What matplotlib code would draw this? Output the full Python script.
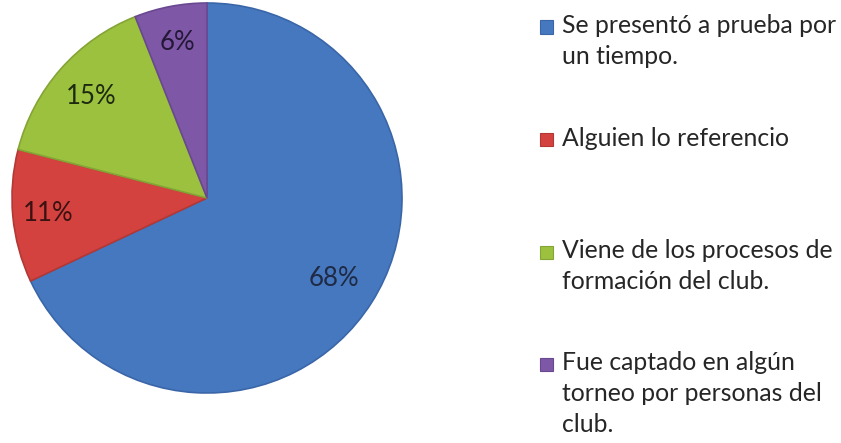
import numpy as np
import matplotlib
matplotlib.use("Agg")
import matplotlib.pyplot as plt
from matplotlib.patches import Rectangle

##### DATA #####
labels = [
    "Se presentó a prueba por\nun tiempo.",
    "Alguien lo referencio",
    "Viene de los procesos de\nformación del club.",
    "Fue captado en algún\ntorneo por personas del\nclub.",
]
values = [68, 11, 15, 6]
colors = ["#4678C0", "#D4423F", "#9CC13F", "#7E58A6"]
edges = ["#3A66A8", "#B23836", "#84A535", "#6A4890"]
text_colors = ["#1F2A44", "#3A1212", "#1E2A10", "#241838"]
label_dist = [0.77, 0.82, 0.79, 0.81]

plt.rcParams['font.family'] = ['Lato', 'DejaVu Sans']

fig = plt.figure(figsize=(8.41, 4.43), dpi=100)
W, H = 841, 443
ax = fig.add_axes([12 / W, (H - 393) / H, 390 / W, 390 / H])

wedges, texts, autotexts = ax.pie(
    values, colors=colors, startangle=90, counterclock=False,
    autopct='%1.0f%%', radius=1,
    wedgeprops=dict(linewidth=1.2),
    textprops=dict(fontsize=18.5),
)
for w, ec in zip(wedges, edges):
    w.set_edgecolor(ec)

# move percentage labels to where they sit in the original
for w, t, d, tc in zip(wedges, autotexts, label_dist, text_colors):
    mid = np.deg2rad((w.theta1 + w.theta2) / 2)
    t.set_position((d * np.cos(mid), d * np.sin(mid)))
    t.set_color(tc)

ax.set_xlim(-1, 1)
ax.set_ylim(-1, 1)
ax.set_aspect('equal')
ax.axis('off')

# legend drawn by hand so markers line up with first text line
legend_top = 27
legend_step = 112.5
for i, (lab, c, ec) in enumerate(zip(labels, colors, edges)):
    y = legend_top + i * legend_step
    fig.patches.append(Rectangle((540 / W, (H - y - 6.5) / H), 13 / W, 13 / H,
                                 transform=fig.transFigure, facecolor=c,
                                 edgecolor=ec, linewidth=0.8))
    fig.text(562 / W, (H - y + 13) / H, lab, fontsize=17.8, color='#262626',
             va='top', ha='left', linespacing=1.42)

fig.savefig("out.png", dpi=100)
